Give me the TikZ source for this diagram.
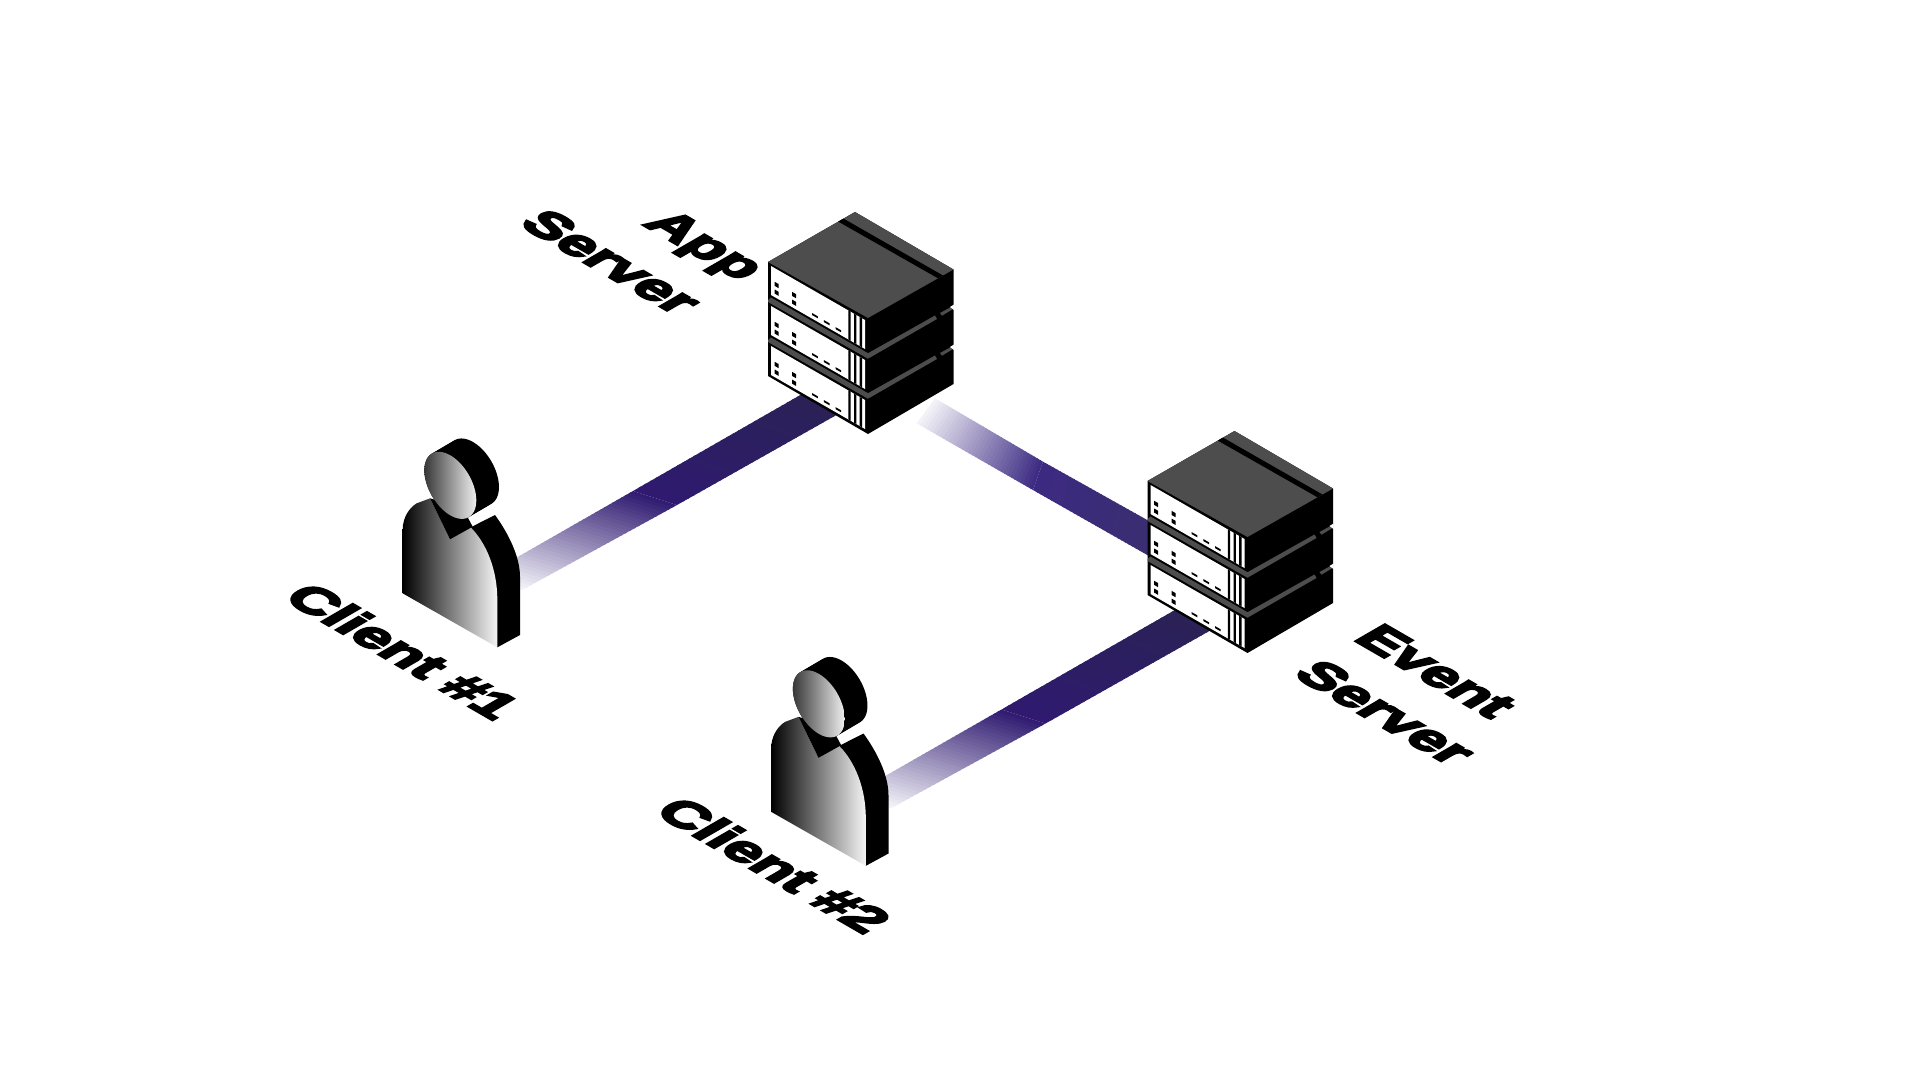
\documentclass[tikz,border=0pt]{standalone}
\usepackage{fontspec}
\usetikzlibrary{calc}
\newfontfamily\labelfont[FakeBold=5.5,FakeStretch=1.2]{Liberation Sans Bold}
\definecolor{srvgray}{HTML}{4D4D4D}
\definecolor{bandlight}{HTML}{F6F5FA}
\definecolor{bandmid}{HTML}{2F1A70}
\definecolor{bandend}{HTML}{2A2352}
\definecolor{bandmidb}{HTML}{3C2A82}
\definecolor{bandendb}{HTML}{3A2E6E}
\newcommand{\bandpart}[6]{%
  \foreach \i in {1,...,36}{%
    \pgfmathsetmacro\ta{(\i-1)/36}%
    \pgfmathsetmacro\tb{min(1,(\i+0.4)/36)}%
    \pgfmathsetmacro\pc{100*(\i-0.5)/36}%
    \fill[#6!\pc!#5] ($(#1)!\ta!(#3)$) -- ($(#1)!\tb!(#3)$) -- ($(#2)!\tb!(#4)$) -- ($(#2)!\ta!(#4)$) -- cycle;
  }%
}
\tikzset{
  isolabel/.style={cm={0.866,-0.5,0.866,0.5,(0,0)},transform shape,inner sep=0pt,font=\labelfont\fontsize{49}{49}\selectfont,text=black},
  pics/server/.style={code={
    \fill[black] (0,0) -- (87,-50) -- (185.5,7.5) -- (185.5,122) -- (100,172) -- (0,114) -- cycle;
    \fill[srvgray] (0,0) -- (87,-50) -- (185.5,7.5) -- (100,56) -- cycle;
    \fill[black] (70.3,-40.4) -- (75.5,-43.4) -- (175,13.5) -- (170,16.3) -- cycle;
    \foreach \o in {0,40,80}{
      \begin{scope}[yshift=-\o pt]
        \fill[white] (3,4) -- (97,58) -- (97,87) -- (3,33) -- cycle;
        \foreach \sx in {81.5,87.2,92.8}{
          \pgfmathsetmacro\ya{4+(\sx-3)*0.574}
          \pgfmathsetmacro\yb{33+(\sx-3)*0.574}
          \fill[black] (\sx-1.2,\ya-0.7) -- (\sx+1.2,\ya+0.7) -- (\sx+1.2,\yb+0.7) -- (\sx-1.2,\yb-0.7) -- cycle;
        }
        \foreach \px/\py in {8.7/23,8.7/30.7,26/33,26/40.7}{
          \fill[black] (\px-2,\py-3.2) -- (\px+2,\py-0.9) -- (\px+2,\py+3.2) -- (\px-2,\py+0.9) -- cycle;
        }
        \foreach \px/\py in {47/53.7,58.7/60.7,70.3/67.7}{
          \fill[black] (\px-2.8,\py-2.6) -- (\px+2.8,\py+0.6) -- (\px+2.8,\py+2.6) -- (\px-2.8,\py-0.6) -- cycle;
        }
      \end{scope}
    }
    \foreach \o in {40,80}{
      \begin{scope}[yshift=-\o pt]
        \fill[srvgray] (0,0) -- (0,-2) -- (3,-4.5) -- (97,49.5) -- (100,51.2) -- (167,13.5) -- (169,17) -- (100,56.7) -- cycle;
        \fill[srvgray] (172,11) -- (183,5) -- (185,7) -- (174,13.7) -- cycle;
        \fill[white] (182,5) -- (186,2.5) -- (186,8) -- cycle;
      \end{scope}
    }
  }},
  pics/person/.style={code={
    \begin{scope}[x=0.33333pt,y=-0.33333pt]
      \fill[black] (352,682) -- (420,645) -- (420,470) .. controls (420,410) and (385,340) .. (345,285) -- (272,322) -- cycle;
      \shade[left color=black,right color=black!4] (68,520) -- (68,330) .. controls (68,290) and (90,262) .. (110,250) -- (150,235) -- (210,358) -- (272,322) .. controls (320,370) and (352,450) .. (352,540) -- (352,682) -- cycle;
      \fill[black] (150,235) -- (210,358) -- (278,320) -- (262,290) -- (200,250) -- cycle;
      \foreach \h in {0,0.1,...,1.01}{
        \fill[black,shift={(68*\h,-40*\h)}] plot[domain=0:360,samples=72,smooth cycle] ({211+77.9*cos(\x)},{196+45*cos(\x)+90*sin(\x)});
      }
      \shade[left color=black!78,right color=black!6] plot[domain=0:360,samples=72,smooth cycle] ({211+77.9*cos(\x)},{196+45*cos(\x)+90*sin(\x)});
    \end{scope}
  }}
}
\begin{document}
\begin{tikzpicture}[x=1pt,y=-1pt]
  \useasboundingbox (0,0) rectangle (1920,1080);
  \fill[white] (0,0) rectangle (1920,1080);

  % connector: client 1 to app server
  \coordinate (aU0) at (481,578);
  \coordinate (aL0) at (522,590);
  \coordinate (aU1) at (633,491);
  \coordinate (aL1) at (677,505);
  \coordinate (aU2) at (830,378);
  \coordinate (aL2) at (870,396);
  \bandpart{aU0}{aL0}{aU1}{aL1}{bandlight}{bandmid}
  \bandpart{aU1}{aL1}{aU2}{aL2}{bandmid}{bandend}

  % connector: client 2 to event server
  \coordinate (cU0) at (849.5,796.5);
  \coordinate (cL0) at (890.5,808.5);
  \coordinate (cU1) at (1001.5,709.5);
  \coordinate (cL1) at (1045.5,723.5);
  \coordinate (cU2) at (1198.5,596.5);
  \coordinate (cL2) at (1238.5,614.5);
  \bandpart{cU0}{cL0}{cU1}{cL1}{bandlight}{bandmid}
  \bandpart{cU1}{cL1}{cU2}{cL2}{bandmid}{bandend}

  % connector: app server to event server
  \coordinate (bU0) at (935,398.3);
  \coordinate (bL0) at (916.7,423.3);
  \coordinate (bU1) at (1043,461.7);
  \coordinate (bL1) at (1033,490);
  \coordinate (bU2) at (1165,530);
  \coordinate (bL2) at (1165,565);
  \bandpart{bU0}{bL0}{bU1}{bL1}{bandlight}{bandmidb}
  \bandpart{bU1}{bL1}{bU2}{bL2}{bandmidb}{bandendb}

  \pic (app) at (768,262) {server};
  \pic (event) at (1147.5,481) {server};
  \pic (clientA) at (380,420) {person};
  \pic (clientB) at (748.5,638.5) {person};

  \node[shift={(403,651)},isolabel] (labelA) at (0,0) {Client \#1};
  \node[shift={(774,865)},isolabel] (labelB) at (0,0) {Client \#2};
  \node[shift={(701.5,247)},isolabel] (labelApp) at (0,0) {App};
  \node[shift={(611.7,261.7)},isolabel] (labelSrvA) at (0,0) {Server};
  \node[shift={(1436,671)},isolabel] (labelEvent) at (0,0) {Event};
  \node[shift={(1385.7,712.3)},isolabel] (labelSrvB) at (0,0) {Server};
\end{tikzpicture}
\end{document}
